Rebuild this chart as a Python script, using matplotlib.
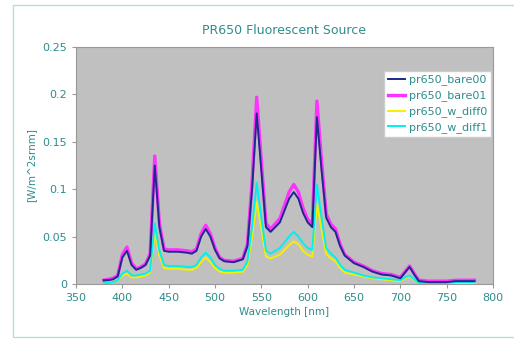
import numpy as np
import matplotlib.pyplot as plt
from matplotlib.patches import Rectangle

# wavelength grid [nm]
wl = [380, 385, 390, 395, 400, 405, 410, 415, 420, 425, 430, 435, 440, 445, 450,
      460, 470, 475, 480, 485, 490, 495, 500, 505, 510, 520, 530, 535, 540, 545,
      550, 555, 560, 570, 580, 585, 590, 595, 600, 605, 610, 615, 620, 625, 630,
      635, 640, 650, 660, 670, 680, 690, 700, 705, 710, 715, 720, 730, 740, 750,
      760, 770, 780]

bare00 = [0.004, 0.004, 0.005, 0.008, 0.028, 0.035, 0.020, 0.015, 0.017, 0.020,
          0.030, 0.125, 0.060, 0.035, 0.034, 0.034, 0.033, 0.032, 0.035, 0.050,
          0.058, 0.050, 0.036, 0.027, 0.024, 0.023, 0.026, 0.040, 0.100, 0.180,
          0.120, 0.060, 0.055, 0.065, 0.090, 0.097, 0.090, 0.075, 0.065, 0.060,
          0.176, 0.120, 0.070, 0.060, 0.055, 0.040, 0.030, 0.022, 0.018, 0.013,
          0.010, 0.009, 0.006, 0.012, 0.018, 0.010, 0.003, 0.002, 0.002, 0.002,
          0.003, 0.003, 0.003]

bare01 = [0.004, 0.005, 0.006, 0.009, 0.031, 0.039, 0.022, 0.016, 0.018, 0.021,
          0.032, 0.135, 0.064, 0.037, 0.036, 0.036, 0.035, 0.034, 0.037, 0.053,
          0.062, 0.053, 0.038, 0.028, 0.025, 0.024, 0.027, 0.042, 0.108, 0.197,
          0.130, 0.064, 0.058, 0.069, 0.097, 0.105, 0.097, 0.080, 0.068, 0.063,
          0.193, 0.130, 0.074, 0.063, 0.058, 0.042, 0.031, 0.023, 0.019, 0.014,
          0.011, 0.010, 0.007, 0.013, 0.019, 0.011, 0.004, 0.003, 0.003, 0.003,
          0.004, 0.004, 0.004]

w_diff0 = [0.001, 0.001, 0.002, 0.004, 0.009, 0.011, 0.007, 0.007, 0.008, 0.009,
           0.012, 0.055, 0.030, 0.017, 0.016, 0.016, 0.015, 0.015, 0.017, 0.023,
           0.028, 0.023, 0.017, 0.013, 0.012, 0.012, 0.013, 0.020, 0.050, 0.087,
           0.058, 0.029, 0.027, 0.031, 0.041, 0.045, 0.042, 0.035, 0.031, 0.029,
           0.085, 0.058, 0.032, 0.027, 0.024, 0.017, 0.012, 0.010, 0.008, 0.006,
           0.005, 0.004, 0.003, 0.006, 0.008, 0.004, 0.001, 0.001, 0.001, 0.001,
           0.001, 0.001, 0.001]

w_diff1 = [0.001, 0.001, 0.002, 0.004, 0.011, 0.014, 0.009, 0.009, 0.010, 0.011,
           0.014, 0.064, 0.035, 0.020, 0.019, 0.019, 0.018, 0.018, 0.020, 0.028,
           0.033, 0.028, 0.020, 0.016, 0.014, 0.014, 0.015, 0.024, 0.060, 0.107,
           0.070, 0.035, 0.032, 0.038, 0.050, 0.055, 0.050, 0.043, 0.038, 0.036,
           0.105, 0.070, 0.038, 0.032, 0.028, 0.020, 0.015, 0.012, 0.009, 0.007,
           0.006, 0.005, 0.004, 0.007, 0.009, 0.005, 0.001, 0.001, 0.001, 0.001,
           0.002, 0.002, 0.002]

labels = ['pr650_bare00', 'pr650_bare01', 'pr650_w_diff0', 'pr650_w_diff1']
teal = '#2f8c8c'

fig = plt.figure(figsize=(5.14, 3.39), dpi=100)
fig.patches.append(Rectangle((13/514, 0.005), 0.99, 1 - 5/339 - 0.005,
                             transform=fig.transFigure, fill=False,
                             edgecolor='#b8dcdc', lw=1))
ax = fig.add_axes([76/514, 1 - 284/339, 417/514, 237/339])
ax.set_facecolor('#c0c0c0')

ax.plot(wl, bare01, color='#ff33ff', lw=2.4, label=labels[1], zorder=2)
ax.plot(wl, bare00, color='#1c2a8c', lw=1.4, label=labels[0], zorder=3)
ax.plot(wl, w_diff0, color='#f4f000', lw=1.4, label=labels[2], zorder=2)
ax.plot(wl, w_diff1, color='#00f0f0', lw=1.4, label=labels[3], zorder=2)

ax.set_xlim(350, 800)
ax.set_ylim(0, 0.25)
ax.set_xticks(np.arange(350, 801, 50))
ax.set_yticks([0, 0.05, 0.1, 0.15, 0.2, 0.25])
ax.set_yticklabels(['0', '0.05', '0.1', '0.15', '0.2', '0.25'])
ax.tick_params(colors='#999999', labelcolor=teal, labelsize=8, length=3)
for s in ax.spines.values():
    s.set_color('#999999')
    s.set_linewidth(0.8)

ax.set_xlabel('Wavelength [nm]', color=teal, fontsize=7.5, labelpad=3)
ax.set_ylabel('[W/m^2srnm]', color=teal, fontsize=7.5, labelpad=4)
ax.set_title('PR650 Fluorescent Source', color=teal, fontsize=9, pad=9)

h, l = ax.get_legend_handles_labels()
order = [1, 0, 2, 3]
leg = ax.legend([h[i] for i in order], [l[i] for i in order], loc='upper right',
                bbox_to_anchor=(0.995, 0.90), fontsize=8, frameon=True,
                fancybox=False, edgecolor='#cccccc', framealpha=1,
                handlelength=1.6, handletextpad=0.3, borderpad=0.35,
                labelspacing=0.45, borderaxespad=0)
for t in leg.get_texts():
    t.set_color(teal)

fig.savefig('out.png', dpi=100)
